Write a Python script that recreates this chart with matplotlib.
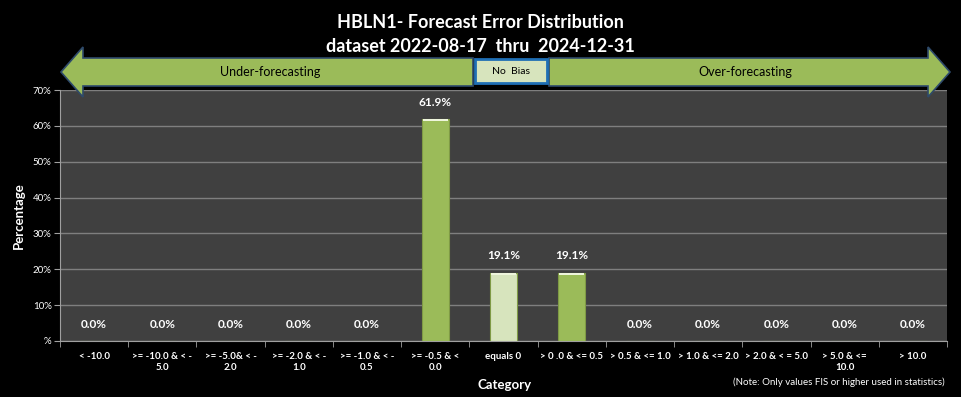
import numpy as np
import matplotlib.pyplot as plt
from matplotlib.patches import FancyArrow, Rectangle

categories = ["< -10.0", ">= -10.0 & < -\n5.0", ">= -5.0& < -\n2.0", ">= -2.0 & < -\n1.0",
              ">= -1.0 & < -\n0.5", ">= -0.5 & <\n0.0", "equals 0", "> 0 .0 & <= 0.5",
              "> 0.5 & <= 1.0", "> 1.0 & <= 2.0", "> 2.0 & < = 5.0", "> 5.0 & <=\n10.0", "> 10.0"]
values = [0.0, 0.0, 0.0, 0.0, 0.0, 61.9, 19.1, 19.1, 0.0, 0.0, 0.0, 0.0, 0.0]
yticks = [0, 10, 20, 30, 40, 50, 60, 70]
ytick_labels = ["%", "10%", "20%", "30%", "40%", "50%", "60%", "70%"]

green = "#9BBB59"
light = "#D7E4BD"
colors = [light if c == "equals 0" else green for c in categories]

plt.rcParams['font.family'] = ['Lato', 'DejaVu Sans']

fig = plt.figure(figsize=(9.61, 3.97), dpi=100, facecolor="black")
ax = fig.add_axes([60 / 961, 56 / 397, 887 / 961, 251 / 397])
ax.set_facecolor("#404040")

x = np.arange(len(categories))
ax.bar(x, values, width=0.4, color=colors, edgecolor="#7F9A45", linewidth=0.8, zorder=3)
# light rim on top of the bars
ax.bar(x, [0.6 if v > 0 else 0 for v in values], bottom=[v - 0.6 for v in values],
       width=0.36, color="#EEF5DC", linewidth=0, zorder=4)
for xi, v in zip(x, values):
    ax.annotate(f"{v:.1f}%", (xi, v), xytext=(0, 8), textcoords="offset points",
                ha="center", va="bottom", color="white", fontsize=8.5, fontweight="bold")

ax.set_xlim(-0.5, len(categories) - 0.5)
ax.set_ylim(0, 70)
ax.set_yticks(yticks)
ax.set_yticklabels(ytick_labels, color="white", fontsize=7)
ax.set_xticks(x)
ax.set_xticklabels(categories, color="white", fontsize=7, fontweight="bold")
ax.set_xticks(np.arange(len(categories) + 1) - 0.5, minor=True)
ax.tick_params(axis="x", which="major", length=0, pad=8)
ax.tick_params(axis="x", which="minor", length=4, color="#A0A0A0")
ax.tick_params(axis="y", length=4, color="#A0A0A0", pad=2)
ax.grid(axis="y", color="#7F7F7F", linewidth=1, zorder=0)
for s in ["top", "right"]:
    ax.spines[s].set_visible(False)
ax.spines["left"].set_color("#A0A0A0")
ax.spines["bottom"].set_color("#A0A0A0")

ax.set_ylabel("Percentage", color="white", fontsize=9.5, fontweight="bold", labelpad=6)
fig.text(505 / 961, 1 - 385 / 397, "Category", color="white", fontsize=9.5,
         fontweight="bold", ha="center", va="center")
fig.text(945 / 961, 1 - 382 / 397, "(Note: Only values FIS or higher used in statistics)",
         color="white", fontsize=7, ha="right", va="center")

fig.text(0.5, 1 - 22 / 397, "HBLN1- Forecast Error Distribution", color="white",
         fontsize=13, fontweight="bold", ha="center", va="center")
fig.text(0.5, 1 - 46 / 397, "dataset 2022-08-17  thru  2024-12-31", color="white",
         fontsize=13, fontweight="bold", ha="center", va="center")

# bias arrows in pixel coords
H = 397
def py(y):
    return H - y

la = FancyArrow(473, py(72), -412, 0, width=28, head_width=50, head_length=22,
                length_includes_head=True, transform=None, facecolor=green,
                edgecolor="#2E4A6B", linewidth=1.2)
ra = FancyArrow(549, py(72), 401, 0, width=28, head_width=50, head_length=22,
                length_includes_head=True, transform=None, facecolor=green,
                edgecolor="#2E4A6B", linewidth=1.2)
fig.patches.extend([la, ra])
box = Rectangle((475, py(83)), 72, 24, transform=None, facecolor=light,
                edgecolor="#1F6FB5", linewidth=2)
fig.patches.append(box)
fig.text(270 / 961, 1 - 72 / 397, "Under-forecasting", color="black", fontsize=9,
         ha="center", va="center")
fig.text(745 / 961, 1 - 72 / 397, "Over-forecasting", color="black", fontsize=9,
         ha="center", va="center")
fig.text(511 / 961, 1 - 72 / 397, "No  Bias", color="black", fontsize=7.5,
         ha="center", va="center")

fig.savefig("out.png", dpi=100, facecolor="black")
